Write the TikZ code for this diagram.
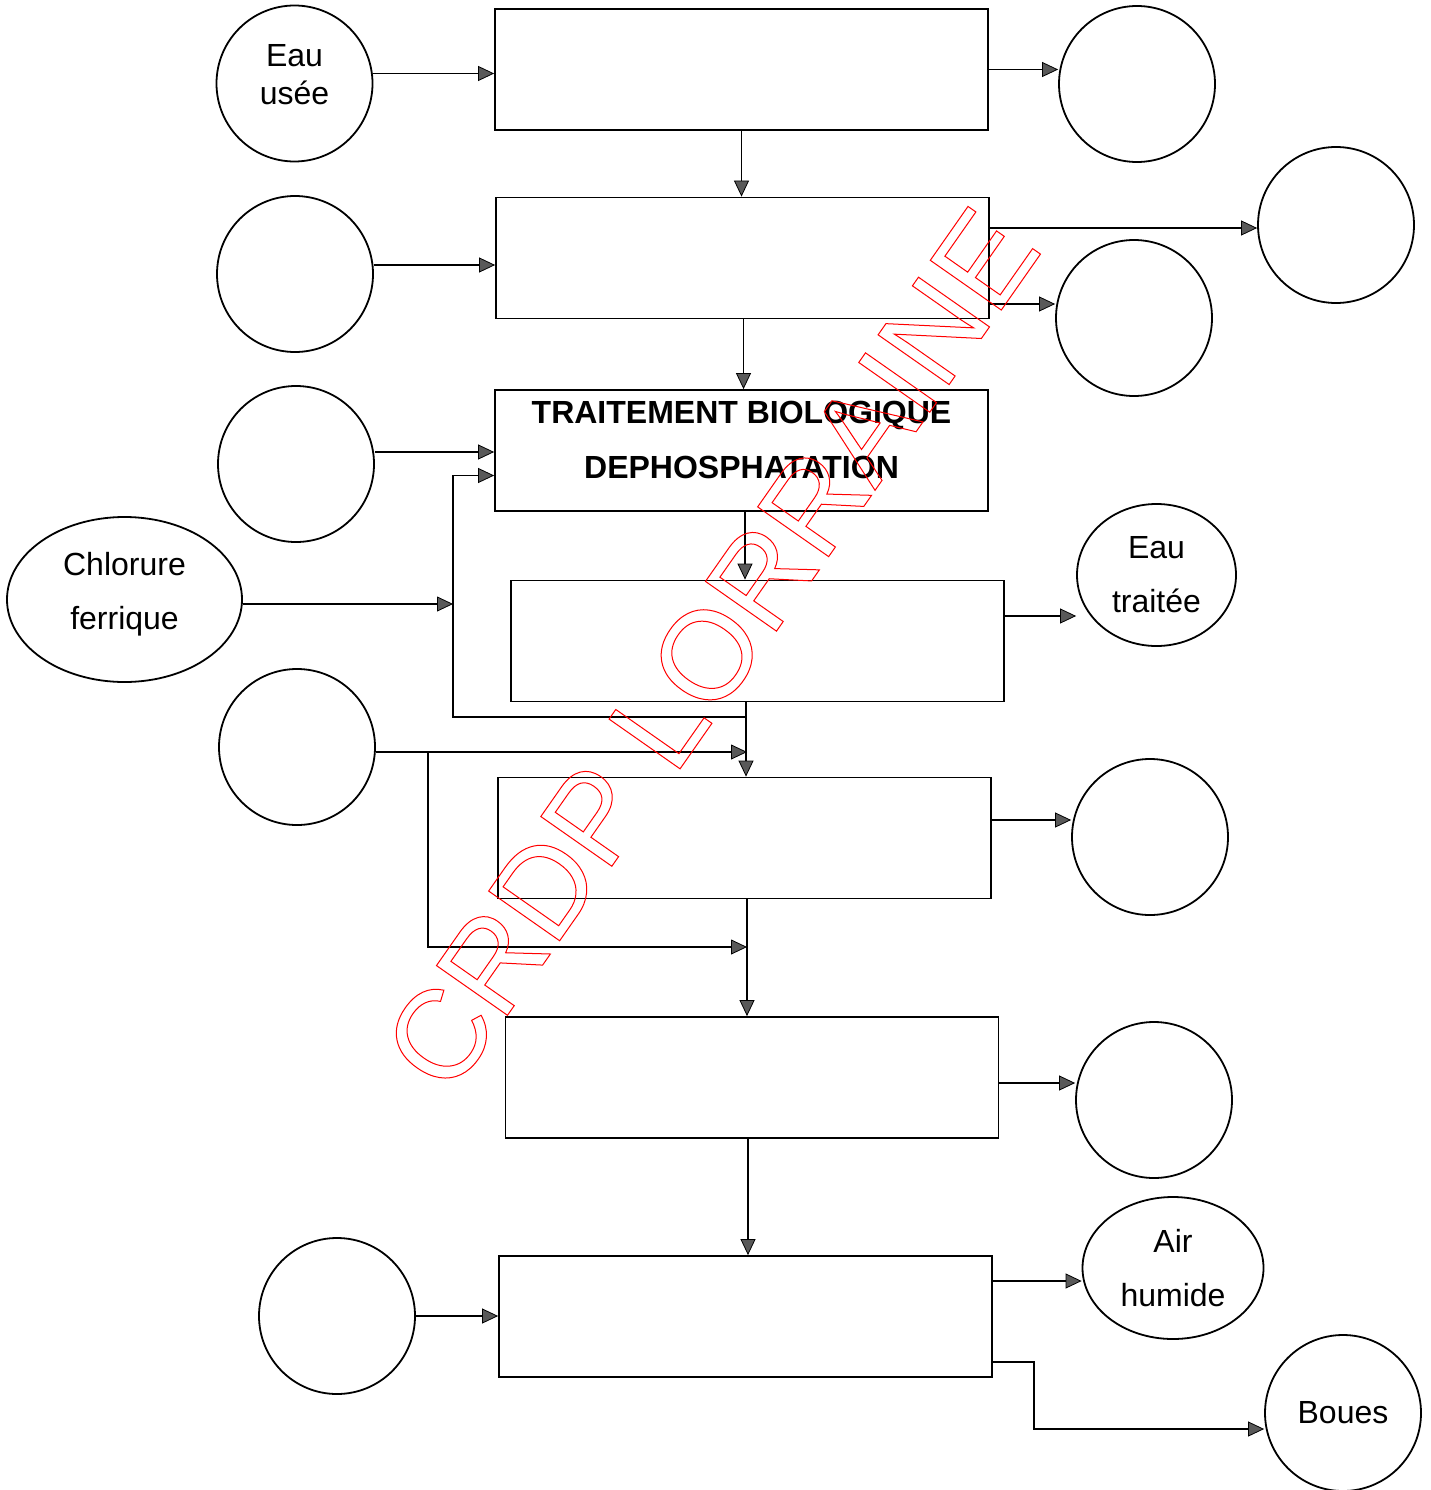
\documentclass[tikz,border=0pt]{standalone}
\usepackage{fontspec}
\setmainfont{Liberation Sans}
\usetikzlibrary{positioning, arrows.meta, shapes.geometric}
\tikzset{
every circle node/.style={draw, circle, line width=1.8pt, minimum size=156pt, inner sep=0pt, align=center},
every ellipse node/.style={draw, ellipse, line width=1.8pt, inner sep=0pt, align=center},
box/.style={draw, rectangle, line width=1.8pt, minimum width=493pt, minimum height=121pt, inner sep=0pt, align=center},
arr/.style={line width=1.8pt, -{Triangle[length=16pt, width=15pt, line width=0.8pt, fill=black!65]}},
stamp/.style={text=red, font=\fontsize{126}{126}\selectfont, rotate=55, inner sep=0pt},
}

\begin{document}
\begin{tikzpicture}[x=1pt, y=-1pt, font=\fontsize{32}{38}\selectfont]
    \useasboundingbox (0,0) rectangle (1431,1490);

    %nodes, left column
    \node[circle, text depth=19pt] (c1) at (294.5,83.5) {Eau\\usée};
    \node[circle]  (c3) at (295,274) { };
    \node[circle]  (c6) at (296,464) { };
    \node[ellipse, minimum width=235pt, minimum height=165pt, text depth=17pt] (e1) at (124.5,599.5) {Chlorure\\[16pt]ferrique};
    \node[circle]  (c7) at (297,747) { };
    \node[circle] (c10) at (337,1316) { };

    %boxes
    \node[box] (b1) at (741.5,69.5) { };
    \node[box] (b2) at (742.5,258) { };
    \node[box, font=\fontsize{32}{38}\selectfont\bfseries, text depth=21pt] (b3) at (741.5,450.5) {TRAITEMENT BIOLOGIQUE\\[17pt]DEPHOSPHATATION};
    \node[box] (b4) at (757.5,641) { };
    \node[box] (b5) at (744.5,838) { };
    \node[box] (b6) at (752,1077.5) { };
    \node[box] (b7) at (745.5,1316.5) { };

    %nodes, right column
    \node[circle]  (c2) at (1137,84) { };
    \node[circle]  (c4) at (1336,225) { };
    \node[circle]  (c5) at (1134,318) { };
    \node[ellipse, minimum width=159pt, minimum height=142pt] (e2) at (1156.5,575) {Eau\\[16pt]traitée};
    \node[circle]  (c8) at (1150,837) { };
    \node[circle]  (c9) at (1154,1100) { };
    \node[ellipse, minimum width=181pt, minimum height=142pt] (e3) at (1173,1268) {Air\\[16pt]humide};
    \node[circle] (c11) at (1343,1413) {Boues};

    %junctions
    \coordinate  (j1) at (746,717);
    \coordinate (rec) at (453,717);
    \coordinate  (j2) at (747,752);
    \coordinate  (br) at (428,752);
    \coordinate  (j3) at (747,947);

    %inputs from the left
    \draw[arr] ([yshift=10pt]c1.east) -- ([yshift=10pt]c1.east -| b1.west);
    \draw[arr]  ([yshift=9pt]c3.east) -- ([yshift=9pt]c3.east -| b2.west);
    \draw[arr] ([yshift=12pt]c6.east) -- ([yshift=12pt]c6.east -| b3.west);
    \draw[arr] ([yshift=-4.5pt]e1.east) -- ([yshift=-4.5pt]e1.east -| rec);
    \draw[arr] (j1) -- (rec) |- ([yshift=-25pt]b3.west);
    \draw[arr] ([yshift=-5pt]c7.east) -- (j2);
    \draw[arr] (br) |- (j3);
    \draw[arr] (c10.east) -- (c10.east -| b7.west);

    %main column
    \draw[arr] (b1.south) -- (b1.south |- b2.north);
    \draw[arr] ([xshift=1pt]b2.south) -- ([xshift=1pt]b2.south |- b3.north);
    \draw[arr] ([xshift=3.5pt]b3.south) -- ([xshift=3.5pt]b3.south |- b4.north);
    \draw[arr] (b4.south -| j1) -- (b5.north -| j1);
    \draw[arr] (b5.south -| j3) -- (b6.north -| j3);
    \draw[arr] ([xshift=-4pt]b6.south) -- ([xshift=-4pt]b6.south |- b7.north);

    %outputs to the right
    \draw[arr] (b1.east) -- (b1.east -| c2.west);
    \draw[arr] ([yshift=30pt]b2.east) -- ([yshift=30pt]b2.east -| c4.west);
    \draw[arr] ([yshift=-46pt]b2.east) -- ([yshift=-46pt]b2.east -| c5.west);
    \draw[arr] ([yshift=25pt]b4.east) -- ([yshift=25pt]b4.east -| e2.west);
    \draw[arr] ([yshift=18pt]b5.east) -- ([yshift=18pt]b5.east -| c8.west);
    \draw[arr] ([yshift=-5.5pt]b6.east) -- ([yshift=-5.5pt]b6.east -| c9.west);
    \draw[arr] ([yshift=35.5pt]b7.east) -- ([yshift=35.5pt]b7.east -| e3.west);
    \draw[arr] ([yshift=-45.5pt]b7.east) -- ++(41,0) |- ([yshift=-16pt]c11.west);

    %watermark
    \node[stamp] (wm) at (711,649) {\special{pdf:literal direct 1 Tr 1 w}CRDP LORRAINE\special{pdf:literal direct 0 Tr}};
\end{tikzpicture}
\end{document}
